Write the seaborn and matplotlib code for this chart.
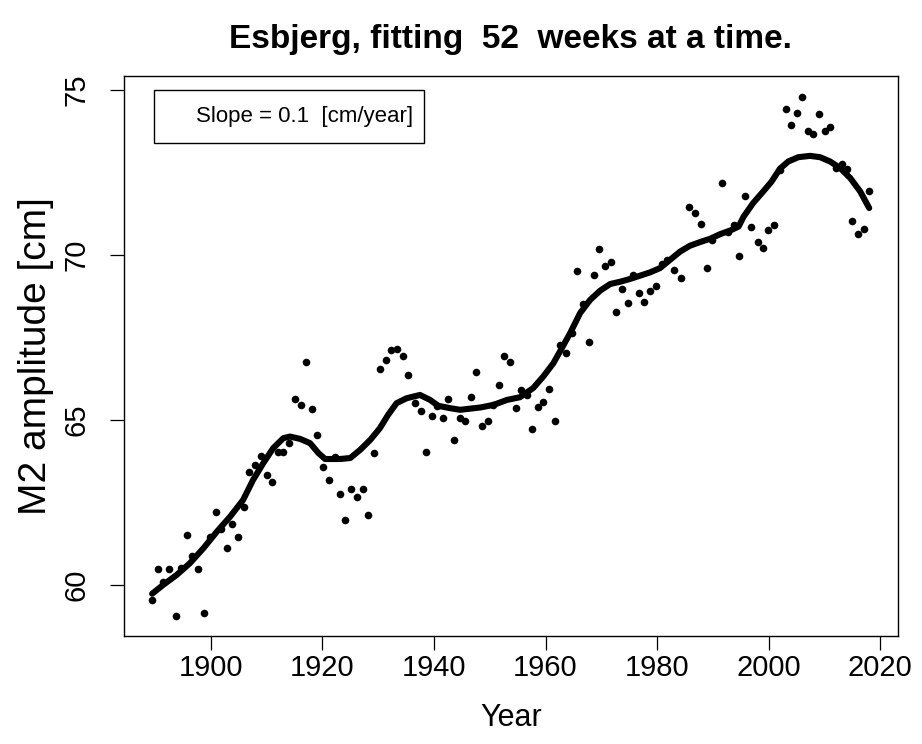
import matplotlib
matplotlib.use("Agg")
import matplotlib.pyplot as plt
from matplotlib.patches import Rectangle
import pandas as pd
import seaborn as sns

# yearly M2 amplitude fits
years = [
    1889.5, 1890.5, 1891.5, 1892.6, 1893.7, 1894.7, 1895.7, 1896.7, 1897.8, 1898.8,
    1899.9, 1900.9, 1901.9, 1902.9, 1903.9, 1904.9, 1905.9, 1906.9, 1907.9, 1909.0,
    1910.0, 1911.0, 1912.0, 1913.0, 1914.0, 1915.1, 1916.1, 1917.1, 1918.1, 1919.1,
    1920.2, 1921.2, 1922.2, 1923.2, 1924.1, 1925.1, 1926.2, 1927.2, 1928.2, 1929.3,
    1930.3, 1931.4, 1932.3, 1933.3, 1934.4, 1935.4, 1936.6, 1937.6, 1938.6, 1939.6,
    1940.5, 1941.6, 1942.6, 1943.6, 1944.6, 1945.6, 1946.6, 1947.6, 1948.6, 1949.6,
    1950.6, 1951.6, 1952.6, 1953.6, 1954.7, 1955.6, 1956.6, 1957.6, 1958.7, 1959.6,
    1960.7, 1961.7, 1962.6, 1963.6, 1964.7, 1965.7, 1966.7, 1967.7, 1968.7, 1969.6,
    1970.7, 1971.7, 1972.7, 1973.7, 1974.7, 1975.7, 1976.8, 1977.7, 1978.8, 1979.8,
    1980.8, 1981.8, 1983.1, 1984.2, 1985.7, 1986.7, 1987.9, 1988.9, 1989.9, 1991.6,
    1992.7, 1993.7, 1994.7, 1995.8, 1996.8, 1998.0, 1998.9, 1999.9, 2001.0, 2002.0,
    2003.1, 2003.9, 2005.0, 2006.0, 2007.0, 2008.0, 2009.0, 2010.0, 2011.0, 2012.0,
    2013.1, 2014.0, 2015.0, 2016.0, 2017.0, 2018.0,
]
amplitude = [
    59.55, 60.48, 60.11, 60.48, 59.08, 60.51, 61.52, 60.87, 60.48, 59.17,
    61.47, 62.23, 61.70, 61.12, 61.86, 61.45, 62.36, 63.44, 63.64, 63.92,
    63.35, 63.11, 64.02, 64.02, 64.30, 65.64, 65.46, 66.77, 65.33, 64.55,
    63.59, 63.19, 63.89, 62.77, 61.98, 62.91, 62.68, 62.91, 62.11, 64.00,
    66.55, 66.82, 67.13, 67.15, 66.94, 66.37, 65.53, 65.26, 64.03, 65.13,
    65.43, 65.06, 65.64, 64.40, 65.07, 64.98, 65.71, 66.47, 64.83, 64.98,
    65.46, 66.07, 66.94, 66.77, 65.36, 65.91, 65.76, 64.73, 65.38, 65.54,
    65.94, 64.97, 67.26, 67.03, 67.65, 69.52, 68.52, 67.35, 69.40, 70.19,
    69.65, 69.78, 68.27, 68.96, 68.54, 69.38, 68.86, 68.56, 68.91, 69.06,
    69.72, 69.86, 69.53, 69.29, 71.45, 71.27, 70.94, 69.59, 70.46, 72.19,
    70.69, 70.92, 69.97, 71.79, 70.86, 70.38, 70.21, 70.76, 70.91, 72.58,
    74.42, 73.94, 74.31, 74.77, 73.76, 73.66, 74.27, 73.74, 73.86, 72.62,
    72.76, 72.60, 71.04, 70.63, 70.80, 71.95,
]

# smoothed curve drawn through the fits
smooth_years = [
    1889.5, 1891.5, 1893.9, 1896.3, 1898.7, 1901.1, 1903.5, 1905.8, 1907.6, 1909.4,
    1911.2, 1913.0, 1914.2, 1916.0, 1917.8, 1919.3, 1920.5, 1923.2, 1925.0, 1926.8,
    1928.6, 1930.3, 1931.8, 1933.3, 1935.1, 1937.5, 1939.3, 1940.8, 1942.9, 1944.7,
    1948.3, 1950.7, 1953.1, 1955.4, 1957.8, 1959.6, 1961.4, 1962.6, 1964.4, 1966.2,
    1968.0, 1969.8, 1971.6, 1973.4, 1975.1, 1976.9, 1978.7, 1980.5, 1982.3, 1984.1,
    1985.9, 1987.7, 1989.5, 1991.3, 1993.1, 1994.6, 1995.5, 1997.2, 1999.0, 2000.5,
    2002.0, 2003.5, 2005.3, 2007.4, 2009.2, 2011.0, 2012.8, 2014.6, 2016.4, 2018.0,
]
smooth_amp = [
    59.74, 60.01, 60.31, 60.67, 61.12, 61.62, 62.08, 62.58, 63.19, 63.69,
    64.15, 64.45, 64.50, 64.43, 64.30, 64.00, 63.82, 63.82, 63.85, 64.10,
    64.40, 64.75, 65.16, 65.51, 65.66, 65.76, 65.61, 65.43, 65.36, 65.31,
    65.38, 65.46, 65.61, 65.69, 65.97, 66.32, 66.72, 67.08, 67.63, 68.24,
    68.64, 68.92, 69.12, 69.19, 69.27, 69.37, 69.47, 69.60, 69.85, 70.10,
    70.28, 70.39, 70.49, 70.63, 70.74, 70.86, 71.16, 71.57, 71.92, 72.22,
    72.61, 72.83, 72.96, 73.00, 72.96, 72.83, 72.63, 72.33, 71.92, 71.42,
]

slope_text = "Slope = 0.1  [cm/year]"
title = "Esbjerg, fitting  52  weeks at a time."

fits = pd.DataFrame({"Year": years, "Amplitude": amplitude})
smooth = pd.DataFrame({"Year": smooth_years, "Amplitude": smooth_amp})

sns.set_style("white")
plt.rcParams["font.family"] = ["Liberation Sans", "DejaVu Sans"]
plt.rcParams["text.color"] = "black"
plt.rcParams["axes.labelcolor"] = "black"
plt.rcParams["xtick.color"] = "black"
plt.rcParams["ytick.color"] = "black"

fig = plt.figure(figsize=(9.22, 7.44), dpi=100)
ax = fig.add_axes([0.1342, 0.1456, 0.8395, 0.7523])

sns.scatterplot(data=fits, x="Year", y="Amplitude", ax=ax, color="black",
                s=30, linewidth=0, zorder=3)
sns.lineplot(data=smooth, x="Year", y="Amplitude", ax=ax, color="black",
             linewidth=4.4, estimator=None, sort=False, zorder=4,
             solid_capstyle="round")

ax.set_xlim(1884.41, 2023.12)
ax.set_ylim(58.47, 75.42)
ax.set_xticks([1900, 1920, 1940, 1960, 1980, 2000, 2020])
ax.set_yticks([60, 65, 70, 75])
ax.set_yticklabels(["60", "65", "70", "75"], rotation=90, va="center")

for sp in ax.spines.values():
    sp.set_color("black")
    sp.set_linewidth(1.0)

ax.tick_params(axis="both", direction="out", length=10, width=0.9,
               color="black", labelsize=21, bottom=True, left=True)
ax.tick_params(axis="x", pad=3)
ax.tick_params(axis="y", pad=14)

ax.set_xlabel("Year", fontsize=22, labelpad=15)
ax.set_ylabel("M2 amplitude [cm]", fontsize=28, labelpad=6)
ax.set_title(title, fontsize=24, fontweight="bold", pad=20)

# legend box with the trend text
ax.add_patch(Rectangle((0.0395, 0.8797), 0.3485, 0.0953, transform=ax.transAxes,
                       facecolor="white", edgecolor="black", linewidth=1.0,
                       zorder=5))
ax.text(0.3738, 0.9273, slope_text, transform=ax.transAxes, ha="right",
        va="center", fontsize=16, zorder=6)

fig.savefig("out.png", dpi=100)
